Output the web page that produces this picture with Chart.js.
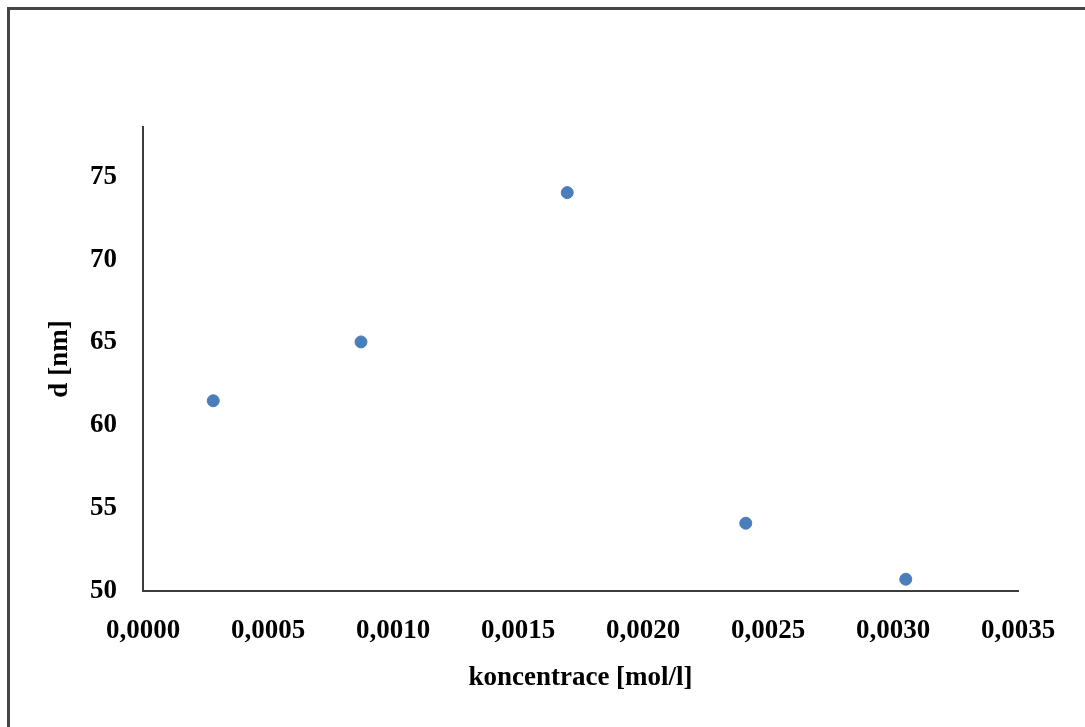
<!DOCTYPE html>
<html>
<head>
<meta charset="utf-8">
<script src="https://cdn.jsdelivr.net/npm/chart.js@4"></script>
<style>
  body { margin: 0; background: #fff; overflow: hidden; }
</style>
</head>
<body>
<canvas id="grafico" width="1085" height="727"></canvas>
<script>
    const koncentrace = [0.000281, 0.000872, 0.001697, 0.002411, 0.003051];
    const prumer = [61.48, 65.03, 74.04, 54.09, 50.71];
    const nazevX = 'koncentrace [mol/l]';
    const nazevY = 'd [nm]';

    const pismo = { family: "'Liberation Serif', 'Times New Roman', serif", size: 27, weight: 'bold' };

    // ramecek vlevo a nahore (jen okraj obrazku)
    const ramecek = {
      id: 'ramecek',
      beforeDraw(chart) {
        const c = chart.ctx;
        c.save();
        c.strokeStyle = '#454545';
        c.lineWidth = 3;
        c.beginPath();
        c.moveTo(8.5, 727);
        c.lineTo(8.5, 8.5);
        c.lineTo(1085, 8.5);
        c.stroke();
        c.restore();
      }
    };

    const ctx = document.getElementById('grafico').getContext('2d');
    const grafico = new Chart(ctx, {
      type: 'scatter',
      data: {
        datasets: [{
          data: koncentrace.map((x, i) => ({ x: x, y: prumer[i] })),
          backgroundColor: '#4a7ebb',
          borderColor: '#4a7ebb',
          pointRadius: 6,
          pointHoverRadius: 6
        }]
      },
      options: {
        responsive: false,
        animation: false,
        layout: { padding: { top: 127, right: 67, left: 0, bottom: 0 } },
        plugins: { legend: { display: false }, tooltip: { enabled: false } },
        scales: {
          x: {
            type: 'linear',
            min: 0,
            max: 0.0035,
            grid: { display: false },
            border: { color: '#3c3c3c', width: 2 },
            ticks: {
              stepSize: 0.0005,
              padding: 16,
              color: '#000',
              font: pismo,
              maxRotation: 0,
              callback: v => v.toFixed(4).replace('.', ',')
            },
            title: { display: true, text: nazevX, color: '#000', font: pismo, padding: { top: 0, bottom: 33 } },
            afterFit(s) { s.height = 727 - 591; }
          },
          y: {
            min: 50,
            max: 78,
            grid: { display: false },
            border: { color: '#3c3c3c', width: 2 },
            ticks: {
              stepSize: 5,
              includeBounds: false,
              padding: 18,
              color: '#000',
              font: pismo
            },
            title: { display: true, text: nazevY, color: '#000', font: pismo, padding: { top: 44, bottom: 0 } },
            afterFit(s) { s.width = 143; }
          }
        }
      },
      plugins: [ramecek]
    });
</script>
</body>
</html>
